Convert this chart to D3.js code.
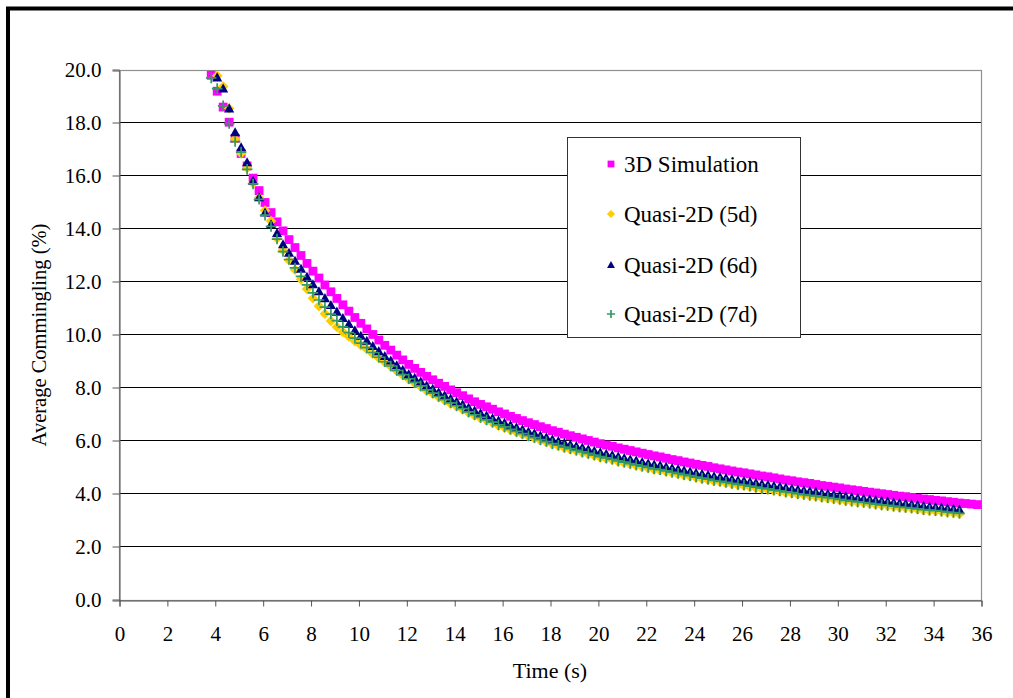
<!DOCTYPE html>
<html><head><meta charset="utf-8">
<script src="https://cdn.jsdelivr.net/npm/d3@7"></script>
<style>
body{margin:0;background:#fff}
svg{display:block}
text{font-family:"Liberation Serif","Times New Roman",serif;fill:#000}
</style>
</head><body>
<svg id="c" width="1013" height="698"></svg>
<script>
// ---- data ----
const times = [3.85,
4.10,4.35,4.60,4.85, 5.10,5.35,5.60,5.85, 6.10,6.35,6.60,6.85, 7.10,7.35,7.60,7.85,
8.10,8.35,8.60,8.85, 9.10,9.35,9.60,9.85, 10.10,10.35,10.60,10.85, 11.10,11.35,11.60,11.85,
12.10,12.35,12.60,12.85, 13.10,13.35,13.60,13.85, 14.10,14.35,14.60,14.85, 15.10,15.35,15.60,15.85,
16.10,16.35,16.60,16.85, 17.10,17.35,17.60,17.85, 18.10,18.35,18.60,18.85, 19.10,19.35,19.60,19.85,
20.10,20.35,20.60,20.85, 21.10,21.35,21.60,21.85, 22.10,22.35,22.60,22.85, 23.10,23.35,23.60,23.85,
24.10,24.35,24.60,24.85, 25.10,25.35,25.60,25.85, 26.10,26.35,26.60,26.85, 27.10,27.35,27.60,27.85,
28.10,28.35,28.60,28.85, 29.10,29.35,29.60,29.85, 30.10,30.35,30.60,30.85, 31.10,31.35,31.60,31.85,
32.10,32.35,32.60,32.85, 33.10,33.35,33.60,33.85, 34.10,34.35,34.60,34.85, 35.10,35.35,35.60,35.85];

const sim3D = [19.80,
19.20,18.60,18.03,17.42, 16.85,16.38,15.92,15.45, 15.00,14.62,14.27,13.93, 13.60,13.30,13.00,12.70,
12.41,12.15,11.89,11.63, 11.38,11.14,10.90,10.66, 10.44,10.23,10.02,9.81, 9.61,9.43,9.24,9.06,
8.89,8.74,8.59,8.44, 8.31,8.18,8.06,7.93, 7.82,7.71,7.59,7.48, 7.38,7.29,7.20,7.10,
7.02,6.93,6.85,6.77, 6.69,6.62,6.54,6.47, 6.39,6.33,6.26,6.20, 6.14,6.08,6.02,5.96,
5.90,5.85,5.80,5.74, 5.69,5.64,5.59,5.54, 5.49,5.44,5.40,5.35, 5.30,5.26,5.21,5.17,
5.12,5.08,5.04,4.99, 4.95,4.91,4.87,4.83, 4.80,4.76,4.72,4.68, 4.65,4.61,4.57,4.53,
4.50,4.46,4.43,4.40, 4.36,4.32,4.29,4.26, 4.23,4.19,4.16,4.13, 4.10,4.07,4.04,4.01,
3.98,3.95,3.92,3.90, 3.87,3.84,3.81,3.79, 3.76,3.74,3.71,3.69, 3.66,3.64,3.62,3.60];

const quasi5d = [null,
19.78,19.38,18.55,17.40, 16.85,16.30,15.72,15.18, 14.70,14.30,13.65,13.20, 12.82,12.46,12.10,11.74,
11.39,11.09,10.80,10.53, 10.30,10.11,9.94,9.77, 9.61,9.46,9.29,9.13, 8.97,8.81,8.64,8.48,
8.33,8.18,8.05,7.90, 7.78,7.65,7.53,7.41, 7.30,7.19,7.07,6.96, 6.86,6.77,6.68,6.58,
6.50,6.41,6.33,6.25, 6.17,6.10,6.02,5.95, 5.87,5.81,5.74,5.68, 5.62,5.56,5.50,5.44,
5.38,5.33,5.28,5.22, 5.17,5.12,5.07,5.02, 4.97,4.92,4.89,4.84, 4.79,4.75,4.70,4.66,
4.61,4.57,4.53,4.48, 4.45,4.41,4.37,4.33, 4.31,4.27,4.23,4.19, 4.16,4.12,4.09,4.05,
4.02,3.98,3.96,3.93, 3.90,3.86,3.83,3.80, 3.77,3.74,3.71,3.68, 3.66,3.63,3.60,3.57,
3.55,3.52,3.49,3.47, 3.45,3.42,3.39,3.37, 3.35,3.33,3.30,3.28, 3.25,null,null,null];

const quasi6d = [null,
19.72,19.30,18.55,17.65, 17.08,16.52,15.82,15.20, 14.62,14.18,13.85,13.42, 13.10,12.80,12.50,12.20,
11.91,11.65,11.39,11.13, 10.88,10.64,10.41,10.18, 9.97,9.78,9.58,9.39, 9.21,9.04,8.86,8.69,
8.53,8.38,8.24,8.09, 7.97,7.84,7.72,7.60, 7.49,7.38,7.26,7.15, 7.05,6.96,6.87,6.77,
6.69,6.60,6.52,6.44, 6.36,6.29,6.21,6.14, 6.06,6.00,5.93,5.87, 5.81,5.75,5.69,5.63,
5.57,5.52,5.47,5.41, 5.36,5.31,5.26,5.21, 5.16,5.11,5.08,5.03, 4.98,4.94,4.89,4.85,
4.80,4.76,4.72,4.67, 4.64,4.60,4.56,4.52, 4.50,4.46,4.42,4.38, 4.35,4.31,4.28,4.24,
4.21,4.17,4.14,4.11, 4.08,4.04,4.01,3.98, 3.95,3.91,3.88,3.85, 3.83,3.80,3.77,3.74,
3.72,3.69,3.66,3.64, 3.61,3.58,3.55,3.53, 3.51,3.49,3.46,3.44, 3.41,null,null,null];

const quasi7d = [19.70,
19.30,18.65,17.98,17.30, 16.90,16.25,15.70,15.12, 14.52,14.10,13.62,13.15, 12.85,12.53,12.21,11.89,
11.59,11.32,11.05,10.79, 10.54,10.31,10.09,9.88, 9.69,9.52,9.34,9.16, 8.99,8.83,8.66,8.50,
8.35,8.21,8.08,7.93, 7.81,7.68,7.56,7.44, 7.33,7.22,7.10,6.99, 6.89,6.80,6.71,6.61,
6.53,6.44,6.36,6.28, 6.20,6.13,6.05,5.98, 5.90,5.84,5.77,5.71, 5.65,5.59,5.53,5.47,
5.41,5.36,5.31,5.25, 5.20,5.15,5.10,5.05, 5.00,4.95,4.92,4.87, 4.82,4.78,4.73,4.69,
4.64,4.60,4.56,4.51, 4.48,4.44,4.40,4.36, 4.34,4.30,4.26,4.22, 4.19,4.15,4.12,4.08,
4.05,4.01,3.98,3.95, 3.93,3.89,3.86,3.83, 3.80,3.76,3.73,3.70, 3.68,3.65,3.62,3.59,
3.57,3.54,3.51,3.49, 3.47,3.44,3.41,3.39, 3.37,3.35,3.32,3.30, 3.27,null,null,null];

const seriesNames = ["3D Simulation","Quasi-2D (5d)","Quasi-2D (6d)","Quasi-2D (7d)"];
const xTicks = [0,2,4,6,8,10,12,14,16,18,20,22,24,26,28,30,32,34,36];
const yTicks = [0,2,4,6,8,10,12,14,16,18,20];
const xTitle = "Time (s)";
const yTitle = "Average Commingling (%)";

// ---- drawing ----
const svg = d3.select("#c");
svg.append("rect").attr("width",1013).attr("height",698).attr("fill","#fff");
// outer chart frame (extends beyond the picture on right/bottom)
svg.append("rect").attr("x",8).attr("y",8.5).attr("width",1100).attr("height",800)
  .attr("fill","none").attr("stroke","#000").attr("stroke-width",4);

const L=119, R=981, T=70, B=600;
const x = d3.scaleLinear().domain([0,36]).range([L,R]);
const y = d3.scaleLinear().domain([0,20]).range([B,T]);
const cr = v => Math.round(v)+0.5;

// gridlines
svg.append("g").selectAll("line").data(yTicks.filter(v=>v>0 && v<20)).join("line")
  .attr("x1",L).attr("x2",R).attr("y1",d=>cr(y(d))-1).attr("y2",d=>cr(y(d))-1)
  .attr("stroke","#000").attr("stroke-width",1);

// plot border
svg.append("rect").attr("x",L+0.5).attr("y",T+0.5).attr("width",R-L).attr("height",B-T)
  .attr("fill","none").attr("stroke","#909090").attr("stroke-width",1.2);

// axes
const fmt = d3.format(".1f");
const yAxis = svg.append("g").attr("transform",`translate(${L+0.5},0.5)`)
  .call(d3.axisLeft(y).tickValues(yTicks).tickFormat(fmt).tickSize(7).tickPadding(11));
const xAxis = svg.append("g").attr("transform",`translate(0.5,${B+0.5})`)
  .call(d3.axisBottom(x).tickValues(xTicks).tickFormat(d3.format("d")).tickSize(6).tickPadding(20));
[yAxis,xAxis].forEach(g=>{
  g.select(".domain").attr("stroke","#555");
  g.selectAll(".tick line").attr("stroke","#555");
  g.selectAll("text").attr("font-family","Liberation Serif, Times New Roman, serif")
   .attr("font-size",21).attr("fill","#000");
});
yAxis.selectAll(".tick line").attr("transform","translate(0,-1)");
yAxis.selectAll(".tick text").attr("dy","0.3em");
xAxis.selectAll(".tick text").attr("dy","0.68em");

// axis titles
svg.append("text").attr("x",550).attr("y",678).attr("text-anchor","middle")
  .attr("font-size",22).text(xTitle);
svg.append("text").attr("transform","translate(46,335) rotate(-90)").attr("text-anchor","middle")
  .attr("font-size",20.5).text(yTitle);

// marker shapes
const shapes = {
  square: s => `M${-s},${-s}H${s}V${s}H${-s}Z`,
  diamond: s => `M0,${-s*1.2}L${s*1.2},0L0,${s*1.2}L${-s*1.2},0Z`,
  triangle: s => `M0,${-s*1.15}L${s*1.15},${s*0.9}L${-s*1.15},${s*0.9}Z`,
  plus: s => `M${-s*1.2},0H${s*1.2}M0,${-s*1.2}V${s*1.2}`
};
const styles = [
  {data:sim3D, shape:"square", color:"#FF00FF"},
  {data:quasi5d, shape:"diamond", color:"#FFCC00"},
  {data:quasi6d, shape:"triangle", color:"#000080"},
  {data:quasi7d, shape:"plus", color:"#339966"}
];
function styleMarker(sel, st){
  if(st.shape==="plus") sel.attr("fill","none").attr("stroke",st.color).attr("stroke-width",1.7);
  else sel.attr("fill",st.color).attr("stroke","none");
}
styles.forEach(st=>{
  const pts = times.map((t,i)=>({t, v:st.data[i]})).filter(d=>d.v!==null);
  const g = svg.append("g");
  const p = g.selectAll("path").data(pts).join("path")
    .attr("transform",d=>`translate(${x(d.t)},${y(d.v)})`)
    .attr("d",shapes[st.shape](4.4));
  styleMarker(p, st);
});

// legend
const lg = svg.append("g");
lg.append("rect").attr("x",567.5).attr("y",137.5).attr("width",233).attr("height",200)
  .attr("fill","#fff").attr("stroke","#333").attr("stroke-width",1);
const rowY = [164,214,265,314];
seriesNames.forEach((name,i)=>{
  const p = lg.append("path").attr("transform",`translate(611,${rowY[i]})`)
    .attr("d",shapes[styles[i].shape](3.4));
  styleMarker(p, styles[i]);
  lg.append("text").attr("x",624).attr("y",rowY[i]+7.5).attr("font-size",23).text(name);
});
</script>
</body></html>
